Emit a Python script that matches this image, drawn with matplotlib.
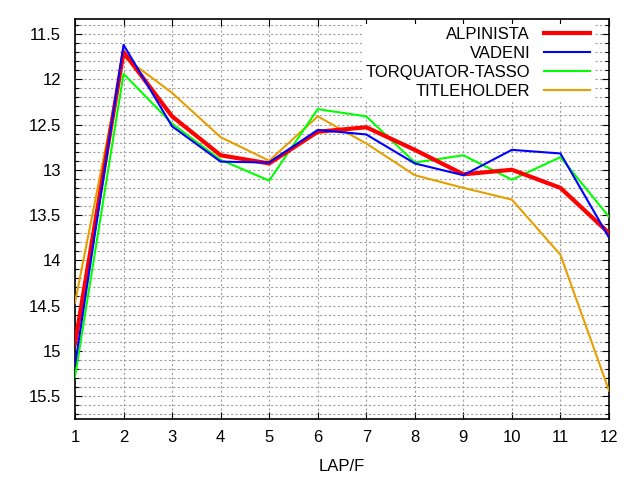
import matplotlib
matplotlib.use("Agg")
from matplotlib import pyplot as plt
from matplotlib.ticker import MultipleLocator, FormatStrFormatter

plt.rcParams['font.family'] = ['Liberation Sans', 'DejaVu Sans']
plt.rcParams['font.size'] = 12

# lap positions
laps = [1, 2, 3, 4, 5, 6, 7, 8, 9, 10, 11, 12]

# race positions per lap
alpinista = [14.92, 11.70, 12.41, 12.84, 12.93, 12.58, 12.53, 12.78, 13.05, 13.00, 13.20, 13.70]
vadeni = [15.16, 11.62, 12.52, 12.91, 12.92, 12.56, 12.61, 12.93, 13.06, 12.78, 12.82, 13.75]
torquator = [15.29, 11.94, 12.49, 12.89, 13.12, 12.33, 12.41, 12.92, 12.84, 13.11, 12.86, 13.52]
titleholder = [14.47, 11.75, 12.15, 12.64, 12.90, 12.41, 12.71, 13.06, 13.20, 13.33, 13.94, 15.44]

fig = plt.figure(figsize=(6.4, 4.8), dpi=100)
ax = fig.add_axes([75/640, 1-419/480, (609-75)/640, (419-19)/480])

ax.plot(laps, alpinista, color='#ff0000', lw=3, label='ALPINISTA', zorder=5)
ax.plot(laps, vadeni, color='#0000ff', lw=1.5, label='VADENI', zorder=6)
ax.plot(laps, torquator, color='#00ff00', lw=1.5, label='TORQUATOR-TASSO', zorder=4)
ax.plot(laps, titleholder, color='#e69f00', lw=1.5, label='TITLEHOLDER', zorder=3)

ax.set_xlim(1, 12)
ax.set_ylim(15.754, 11.334)
ax.xaxis.set_major_locator(MultipleLocator(1))
ax.yaxis.set_major_locator(MultipleLocator(0.5))
ax.yaxis.set_minor_locator(MultipleLocator(0.1))
ax.yaxis.set_major_formatter(FormatStrFormatter('%g'))

ax.grid(True, which='both', color='#a0a0a0', linestyle=(0, (2, 2)), linewidth=0.8)
ax.set_axisbelow(True)

ax.tick_params(which='both', direction='in', top=True, right=True, colors='black')
ax.tick_params(axis='y', pad=10)
ax.tick_params(axis='x', pad=8)
ax.tick_params(which='major', length=5, width=0.8)
ax.tick_params(which='minor', length=3, width=0.8)
for s in ax.spines.values():
    s.set_linewidth(1.2)

ax.set_xlabel('LAP/F', labelpad=10)

leg = ax.legend(loc='upper right', bbox_to_anchor=(0.971, 0.988), markerfirst=False,
                frameon=True, fancybox=False,
                edgecolor='none', facecolor='white', framealpha=1,
                handlelength=2.8, handletextpad=0.8, labelspacing=0.24,
                borderpad=0.2, borderaxespad=0)
leg.set_zorder(10)

fig.savefig('out.png', dpi=100)
